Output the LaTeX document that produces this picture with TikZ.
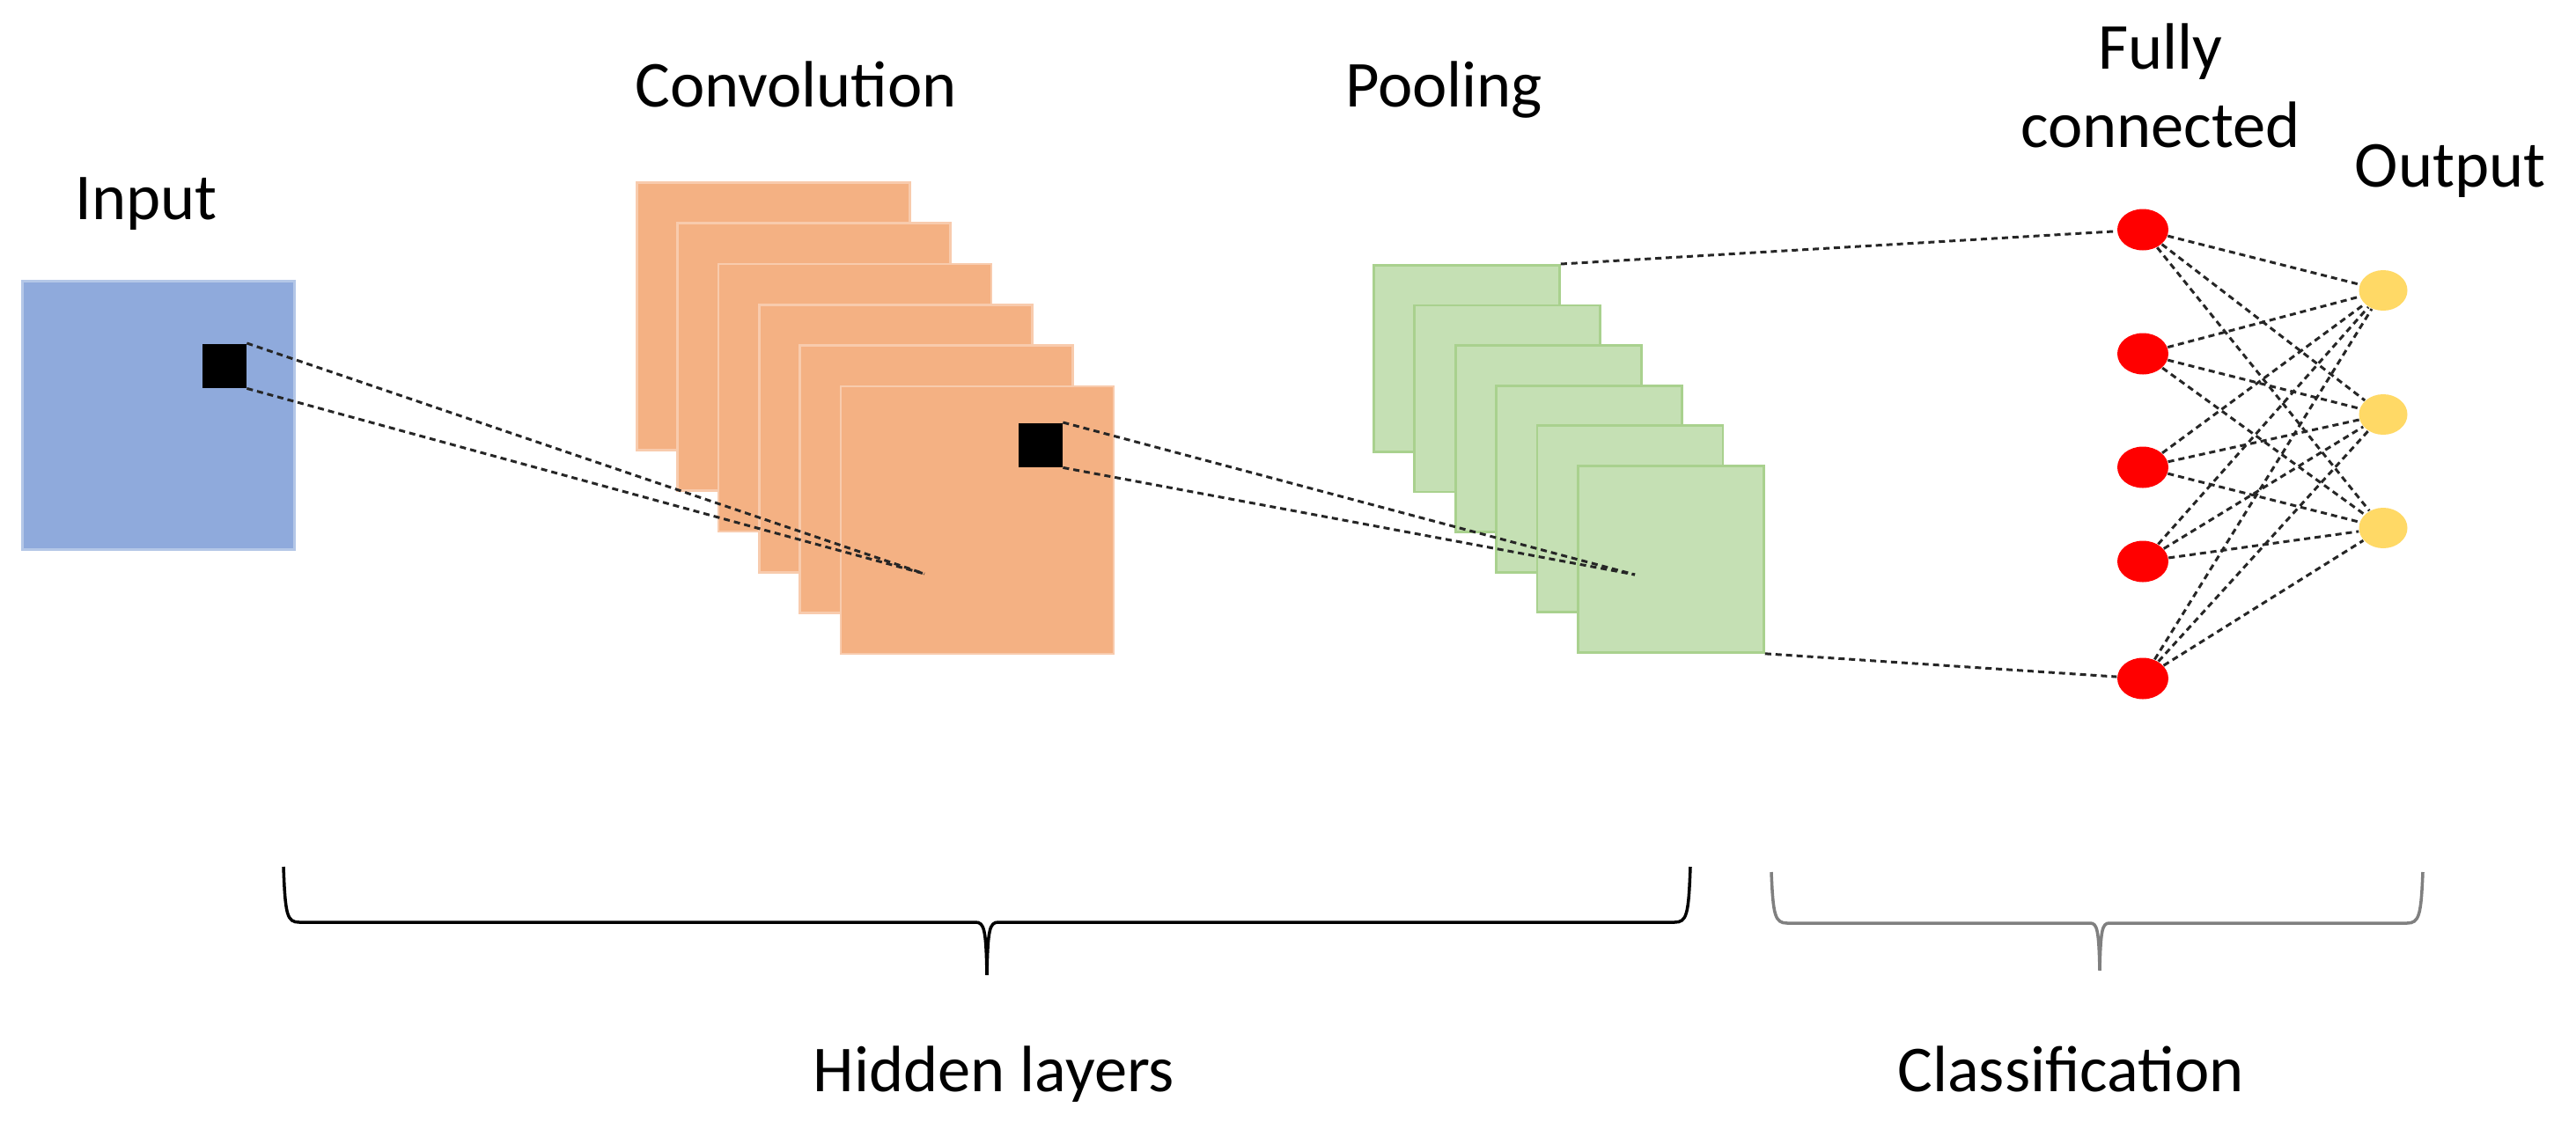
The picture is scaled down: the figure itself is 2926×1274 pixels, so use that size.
\documentclass[tikz,border=0pt]{standalone}
\usepackage{fontspec}
\setmainfont{Carlito}
\usetikzlibrary{positioning}
\usetikzlibrary{shapes.geometric}

\definecolor{inblue}{HTML}{8FAADC}
\definecolor{inblueedge}{HTML}{B4C7E7}
\definecolor{convorange}{HTML}{F4B183}
\definecolor{convedge}{HTML}{F8CBAD}
\definecolor{poolgreen}{HTML}{C5E0B4}
\definecolor{pooledge}{HTML}{A9D18E}
\definecolor{fcred}{HTML}{FF0000}
\definecolor{outyellow}{HTML}{FFD966}

\begin{document}
\begin{tikzpicture}[x=0.1mm, y=-0.1mm,
                          font=\fontsize{21.2}{25.3}\selectfont,
                          inputmap/.style={rectangle, draw=inblueedge, fill=inblue, line width=0.8pt, inner sep=0pt, minimum width=30.9mm, minimum height=30.5mm, anchor=north west},
                          convmap/.style={rectangle, draw=convedge, fill=convorange, line width=0.8pt, inner sep=0pt, minimum width=31mm, minimum height=30.4mm, anchor=north west},
                          poolmap/.style={rectangle, draw=pooledge, fill=poolgreen, line width=0.8pt, inner sep=0pt, minimum width=21.1mm, minimum height=21.2mm, anchor=north west},
                          patchbox/.style={rectangle, fill=black, inner sep=0pt, minimum size=5mm, anchor=north west},
                          fcnode/.style={ellipse, fill=fcred, inner sep=0pt, minimum width=5.8mm, minimum height=4.7mm},
                          outnode/.style={ellipse, fill=outyellow, inner sep=0pt, minimum width=5.5mm, minimum height=4.6mm},
                          link/.style={black!85, line width=0.85pt, dash pattern=on 2pt off 1.4pt},
                          layertext/.style={anchor=base, inner sep=0pt},
                          bracket/.style={line width=1pt, line join=miter},
                      ]
                      \useasboundingbox[fill=white] (0,0) rectangle (2926,1274);

                      %Input
                      \node[inputmap]   (input)      at (24,318)                            {};
                      \node[patchbox]   (inpatch)    at (229,390)                           {};

                      %Convolution
                      \node[convmap]    (conv1)      at (722,206)                           {};
                      \node[convmap]    (conv2)      [below right=4.63mm and 4.63mm of conv1.north west] {};
                      \node[convmap]    (conv3)      [below right=4.63mm and 4.63mm of conv2.north west] {};
                      \node[convmap]    (conv4)      [below right=4.63mm and 4.63mm of conv3.north west] {};
                      \node[convmap]    (conv5)      [below right=4.63mm and 4.63mm of conv4.north west] {};
                      \node[convmap]    (conv6)      [below right=4.63mm and 4.63mm of conv5.north west] {};
                      \node[patchbox]   (convpatch)  at (1156,480)                          {};
                      \coordinate       (convfocus)  at (1050,652);

                      %Pooling
                      \node[poolmap]    (pool1)      at (1559,300)                          {};
                      \node[poolmap]    (pool2)      [below right=4.56mm and 4.64mm of pool1.north west] {};
                      \node[poolmap]    (pool3)      [below right=4.56mm and 4.64mm of pool2.north west] {};
                      \node[poolmap]    (pool4)      [below right=4.56mm and 4.64mm of pool3.north west] {};
                      \node[poolmap]    (pool5)      [below right=4.56mm and 4.64mm of pool4.north west] {};
                      \node[poolmap]    (pool6)      [below right=4.56mm and 4.64mm of pool5.north west] {};
                      \coordinate       (poolfocus)  at (1857,653);

                      %Fully connected and output
                      \node[fcnode]     (fc1)        at (2434,261)                          {};
                      \node[fcnode]     (fc2)        at (2434,402)                          {};
                      \node[fcnode]     (fc3)        at (2434,531)                          {};
                      \node[fcnode]     (fc4)        at (2434,638)                          {};
                      \node[fcnode]     (fc5)        at (2434,771)                          {};
                      \node[outnode]    (out1)       at (2707,330)                          {};
                      \node[outnode]    (out2)       at (2707,471)                          {};
                      \node[outnode]    (out3)       at (2707,600)                          {};

                      %Texts
                      \node[layertext]  (intext)     at (166,249)     {Input};
                      \node[layertext]  (convtext)   at (904,121)     {Convolution};
                      \node[layertext]  (pooltext)   at (1640,121)    {Pooling};
                      \node[layertext, align=center] (fctext) at (2454,167) {Fully\\connected};
                      \node[layertext]  (outtext)    at (2783,212)    {Output};
                      \node[layertext]  (hidtext)    at (1129,1240)   {Hidden layers};
                      \node[layertext]  (clstext)    at (2352,1240)   {Classification};

                      %Lines
                      \draw[link] (inpatch.north east) -- (convfocus);
                      \draw[link] (inpatch.south east) -- (convfocus);
                      \draw[link] (convpatch.north east) -- (poolfocus);
                      \draw[link] (convpatch.south east) -- (poolfocus);
                      \draw[link] (pool1.north east) -- (fc1);
                      \draw[link] (pool6.south east) -- (fc5);
                      \draw[link] (fc1) -- (out1) (fc1) -- (out2) (fc1) -- (out3);
                      \draw[link] (fc2) -- (out1) (fc2) -- (out2) (fc2) -- (out3);
                      \draw[link] (fc3) -- (out1) (fc3) -- (out2) (fc3) -- (out3);
                      \draw[link] (fc4) -- (out1) (fc4) -- (out2) (fc4) -- (out3);
                      \draw[link] (fc5) -- (out1) (fc5) -- (out2) (fc5) -- (out3);

                      %Braces
                      \draw[bracket] (322,985) .. controls (324,1040) and (326,1048) .. (340,1048) -- (1108,1048)
                                     .. controls (1118,1048) and (1120,1056) .. (1121,1108)
                                     .. controls (1122,1056) and (1124,1048) .. (1134,1048) -- (1902,1048)
                                     .. controls (1916,1048) and (1918,1040) .. (1920,985);
                      \draw[bracket, black!50] (2012,991) .. controls (2014,1040) and (2016,1049) .. (2030,1049) -- (2374,1049)
                                     .. controls (2382,1049) and (2384,1056) .. (2385,1103)
                                     .. controls (2386,1056) and (2388,1049) .. (2396,1049) -- (2734,1049)
                                     .. controls (2748,1049) and (2750,1040) .. (2752,991);
                  \end{tikzpicture}
\end{document}
